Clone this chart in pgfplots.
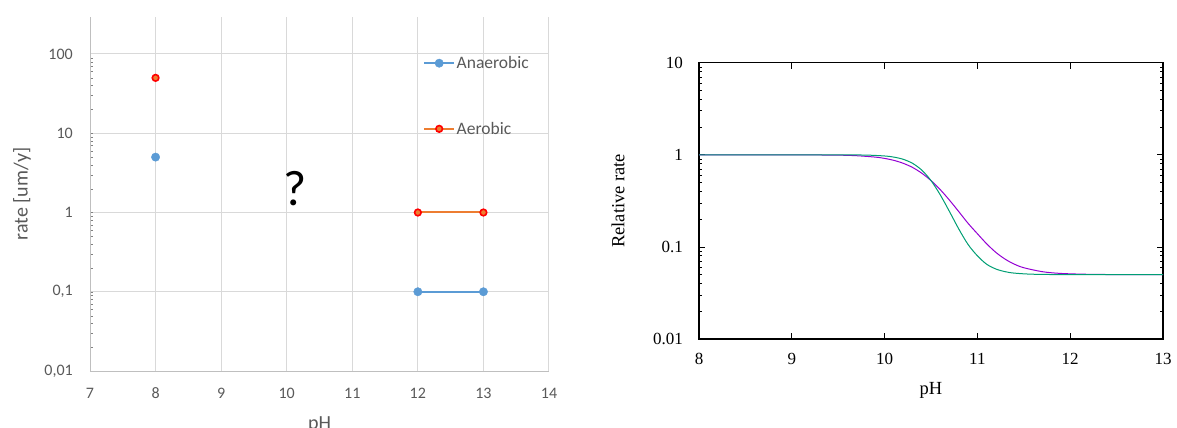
\documentclass[border=0pt]{standalone}
\usepackage{fontspec}
\setmainfont{Liberation Serif}
\newfontfamily\calibri{Carlito}
\usepackage{pgfplots}
\pgfplotsset{compat=1.18}
\definecolor{tgray}{HTML}{595959}
\definecolor{gridgray}{HTML}{D9D9D9}
\definecolor{axgray}{HTML}{BFBFBF}
\definecolor{ablue}{HTML}{5B9BD5}
\definecolor{aorange}{HTML}{ED7D31}
\definecolor{gpurple}{HTML}{9400D3}
\definecolor{gteal}{HTML}{009E73}
\begin{document}
\begin{tikzpicture}
\useasboundingbox (0pt,0pt) rectangle (1177pt,428pt);
% ---------------- left panel ----------------
\begin{axis}[
  at={(90pt,57pt)}, anchor=south west,
  scale only axis, width=459pt, height=354pt,
  xmin=7, xmax=14, ymode=log, ymin=0.01, ymax=293,
  axis x line*=bottom, axis y line*=left,
  axis line style={color=axgray, line width=1pt},
  grid=major, grid style={color=gridgray, line width=1pt},
  major tick length=0pt, minor tick num=0,
  xtick={7,8,9,10,11,12,13,14},
  xticklabels={7,8,9,10,11,12,13,14},
  ytick={0.01,0.1,1,10,100},
  yticklabels={{0,01},{0,1},1,10,100},
  ticklabel style={font=\calibri\fontsize{16}{19}\selectfont, color=tgray},
  xticklabel style={anchor=center, inner sep=0pt, yshift=-22pt},
  yticklabel style={anchor=east, inner sep=0pt, xshift=-17pt},
  ylabel={\calibri\fontsize{20}{24}\selectfont rate [um/y]},
  ylabel style={at={(axis description cs:-0.148,0.5)}, anchor=center, color=tgray},
  xlabel={\calibri\fontsize{20}{24}\selectfont pH},
  xlabel style={at={(axis description cs:0.5,-0.1186)}, anchor=north, color=tgray},
  legend style={at={(axis description cs:0.7255,0.7768)}, anchor=west, draw=none, fill=none,
    font=\calibri\fontsize{17.5}{20}\selectfont, text=tgray, row sep=49pt, inner sep=0pt,
    nodes={inner sep=1.5pt}},
  legend cell align=left,
  legend image code/.code={\draw[mark repeat=2,mark phase=2] plot coordinates {(0pt,0pt) (15pt,0pt) (30pt,0pt)};},
  unbounded coords=jump,
  clip=false,
]
\addplot[color=ablue, line width=2pt, mark=*, mark size=4.2pt,
  mark options={fill=ablue, draw=ablue, line width=0.4pt, solid}]
  coordinates {(8,5) (10,nan) (12,0.1) (13,0.1)};
\addlegendentry{Anaerobic}
\addplot[color=aorange, line width=2pt, mark=*, mark size=3.3pt,
  mark options={fill=aorange, draw=red, line width=1.6pt, solid}]
  coordinates {(8,50) (10,nan) (12,1) (13,1)};
\addlegendentry{Aerobic}
\node[font=\calibri\fontsize{50}{60}\selectfont, text=black] at (axis cs:10.13,2.0) {?};
\end{axis}
% ---------------- right panel ----------------
\begin{axis}[
  at={(699pt,89pt)}, anchor=south west,
  scale only axis, width=464pt, height=276.3pt,
  xmin=8, xmax=13, ymode=log, ymin=0.01, ymax=10,
  axis line style={color=black, line width=1.2pt},
  major tick length=6pt, minor tick length=3pt,
  tick style={color=black, line width=0.8pt},
  xtick={8,9,10,11,12,13},
  xticklabels={8,9,10,11,12,13},
  ytick={0.01,0.1,1,10},
  yticklabels={0.01,0.1,1,10},
  ticklabel style={font=\fontsize{17}{20}\selectfont, color=black},
  xticklabel style={anchor=center, inner sep=0pt, yshift=-20pt},
  yticklabel style={anchor=east, inner sep=0pt, xshift=-16pt},
  ylabel={\fontsize{18.5}{22}\selectfont Relative rate},
  ylabel style={at={(axis description cs:-0.1746,0.5)}, anchor=center},
  xlabel={\fontsize{18.5}{22}\selectfont pH},
  xlabel style={at={(axis description cs:0.5,-0.1846)}, anchor=center},
]
\addplot[color=gpurple, line width=1pt, smooth] coordinates {
 (8.0,1.0) (9.0,0.999) (9.5,0.991) (9.7,0.977) (9.9,0.944) (10.0,0.914)
 (10.1,0.87) (10.2,0.809) (10.3,0.73) (10.4,0.632) (10.5,0.525)
 (10.6,0.418) (10.7,0.321) (10.8,0.241) (10.9,0.18) (11.0,0.139)
 (11.1,0.108) (11.2,0.087) (11.3,0.0735) (11.4,0.0648) (11.5,0.0594)
 (11.7,0.0538) (11.9,0.0515) (12.2,0.0504) (12.6,0.05) (13.0,0.05)};
\addplot[color=gteal, line width=1pt, smooth] coordinates {
 (8.0,1.0) (9.0,1.0) (9.5,0.999) (9.8,0.993) (10.0,0.971) (10.1,0.944)
 (10.2,0.894) (10.3,0.809) (10.4,0.683) (10.5,0.525) (10.6,0.367)
 (10.7,0.241) (10.8,0.156) (10.9,0.106) (11.0,0.08) (11.1,0.0648)
 (11.2,0.0575) (11.3,0.0538) (11.4,0.0519) (11.6,0.0505) (12.0,0.05)
 (13.0,0.05)};
\end{axis}
\end{tikzpicture}
\end{document}
